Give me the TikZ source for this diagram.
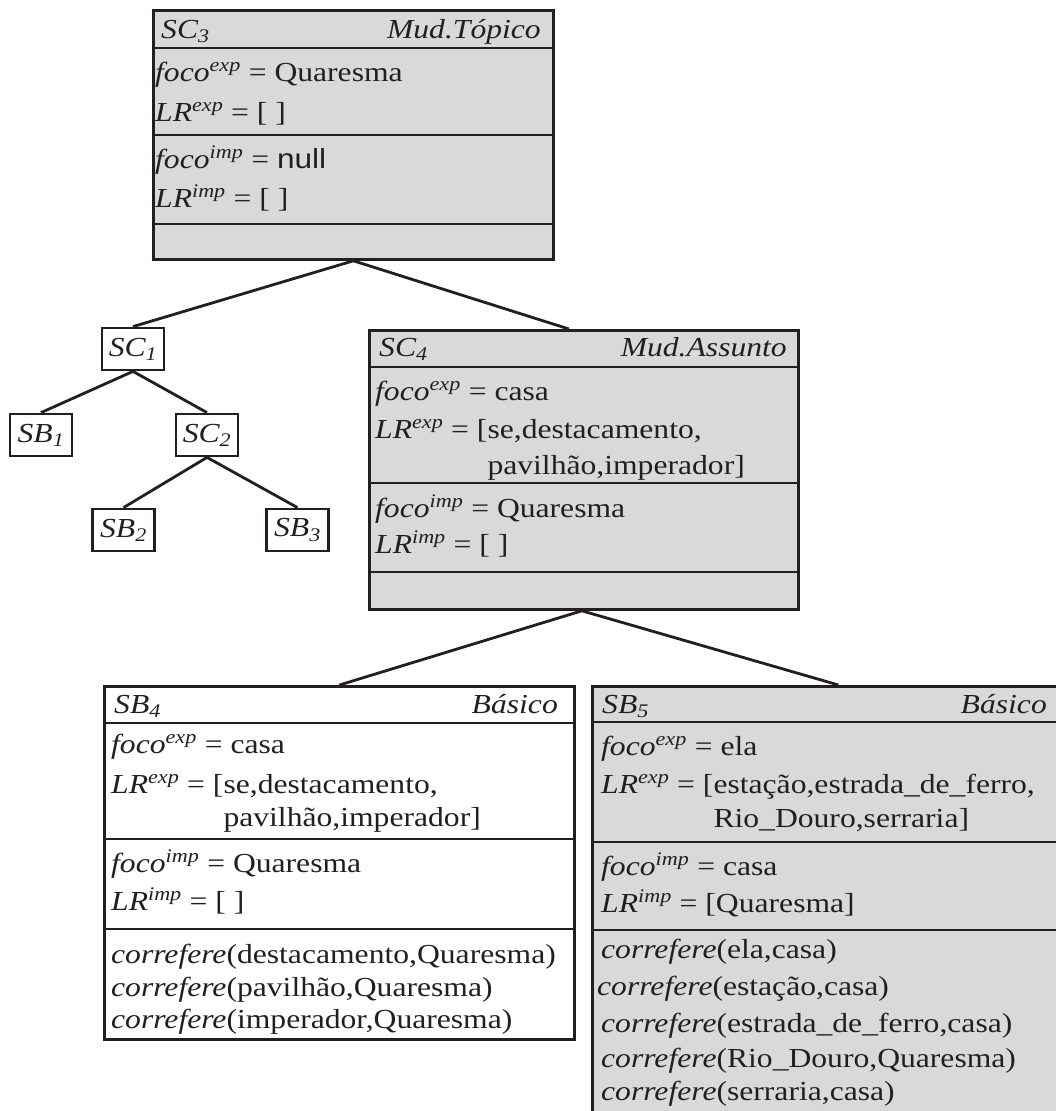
\documentclass[tikz,border=0pt]{standalone}
\usepackage{fontspec}
\setmainfont[FakeStretch=1.15]{Liberation Serif}
\newfontfamily\sansfam[FakeStretch=1.15]{Liberation Sans}

\definecolor{ink}{RGB}{35,31,32}
\definecolor{panel}{RGB}{216,217,217}

% entries of the focus/reference-list records
\newcommand\focoexp{\textit{foco}\textsuperscript{\textit{exp}}}
\newcommand\focoimp{\textit{foco}\textsuperscript{\textit{imp}}}
\newcommand\lrexp{\textit{LR}\textsuperscript{\textit{exp}}}
\newcommand\lrimp{\textit{LR}\textsuperscript{\textit{imp}}}
\newcommand\corref{\textit{correfere}}
\newcommand\recfont{\fontsize{27.5}{31}\selectfont}

\begin{document}
\begin{tikzpicture}[x=1pt,y=-1pt,
  every node/.style={text=ink},
  record/.style={draw=ink, line width=2.8pt, inner sep=0pt, anchor=north west},
  greyrec/.style={record, fill=panel},
  whiterec/.style={record, fill=white},
  leaf/.style={draw=ink, line width=2.8pt, fill=white, inner sep=0pt,
    minimum width=62pt, minimum height=42pt, font=\recfont\itshape},
  txt/.style={anchor=base west, inner sep=0pt, font=\recfont},
  rtxt/.style={anchor=base east, inner sep=0pt, font=\recfont\itshape},
  rule/.style={draw=ink, line width=2.8pt},
  link/.style={draw=ink, line width=2.8pt}]
\useasboundingbox (0,0) rectangle (1056,1111);
\clip (0,0) rectangle (1056,1111);

% ---------- SC3 ----------
\node[greyrec, minimum width=400pt, minimum height=249pt] (sc3) at (152,9) {};
\draw[rule] ([yshift=-39pt]sc3.north west) -- ([yshift=-39pt]sc3.north east);
\draw[rule] ([yshift=-126pt]sc3.north west) -- ([yshift=-126pt]sc3.north east);
\draw[rule] ([yshift=-215pt]sc3.north west) -- ([yshift=-215pt]sc3.north east);
\node[txt] (sc3h) at (161,38) {\textit{SC\textsubscript{3}}};
\node[rtxt] (sc3t) at (541,38) {Mud.Tópico};
\node[txt] (sc3a) at (155,81) {\focoexp{} = Quaresma};
\node[txt] (sc3b) at (155,121) {\lrexp{} = [ ]};
\node[txt] (sc3c) at (155,168) {\focoimp{} = {\sansfam null}};
\node[txt] (sc3d) at (155,207) {\lrimp{} = [ ]};

% ---------- left subtree ----------
\node[leaf] (sc1) at (133,349) {SC\textsubscript{1}};
\node[leaf] (sb1) at (41,435) {SB\textsubscript{1}};
\node[leaf] (sc2) at (207,435) {SC\textsubscript{2}};
\node[leaf] (sb2) at (123.5,530) {SB\textsubscript{2}};
\node[leaf] (sb3) at (297.5,530) {SB\textsubscript{3}};

% ---------- SC4 ----------
\node[greyrec, minimum width=429pt, minimum height=279pt] (sc4) at (368,329) {};
\draw[rule] ([yshift=-38pt]sc4.north west) -- ([yshift=-38pt]sc4.north east);
\draw[rule] ([yshift=-154pt]sc4.north west) -- ([yshift=-154pt]sc4.north east);
\draw[rule] ([yshift=-243pt]sc4.north west) -- ([yshift=-243pt]sc4.north east);
\node[txt] (sc4h) at (379,356) {\textit{SC\textsubscript{4}}};
\node[rtxt] (sc4t) at (787,356) {Mud.Assunto};
\node[txt] (sc4a) at (375,400) {\focoexp{} = casa};
\node[txt] (sc4b) at (375,438) {\lrexp{} = [se,destacamento,};
\node[txt] (sc4c) at (375,474) {\hphantom{\lrexp{} = [}pavilhão,imperador]};
\node[txt] (sc4d) at (375,517) {\focoimp{} = Quaresma};
\node[txt] (sc4e) at (375,553) {\lrimp{} = [ ]};

% ---------- SB4 ----------
\node[whiterec, minimum width=470pt, minimum height=353pt] (sb4) at (103,685) {};
\draw[rule] ([yshift=-38pt]sb4.north west) -- ([yshift=-38pt]sb4.north east);
\draw[rule] ([yshift=-154pt]sb4.north west) -- ([yshift=-154pt]sb4.north east);
\draw[rule] ([yshift=-244pt]sb4.north west) -- ([yshift=-244pt]sb4.north east);
\node[txt] (sb4h) at (114,713) {\textit{SB\textsubscript{4}}};
\node[rtxt] (sb4t) at (558,713) {Básico};
\node[txt] (sb4a) at (111,753) {\focoexp{} = casa};
\node[txt] (sb4b) at (111,793) {\lrexp{} = [se,destacamento,};
\node[txt] (sb4c) at (111,826) {\hphantom{\lrexp{} = [}pavilhão,imperador]};
\node[txt] (sb4d) at (111,872) {\focoimp{} = Quaresma};
\node[txt] (sb4e) at (111,910) {\lrimp{} = [ ]};
\node[txt] (sb4f) at (111,963) {\corref(destacamento,Quaresma)};
\node[txt] (sb4g) at (111,996) {\corref(pavilhão,Quaresma)};
\node[txt] (sb4i) at (111,1028) {\corref(imperador,Quaresma)};

% ---------- SB5 (runs past the right and lower edges) ----------
\node[greyrec, minimum width=492pt, minimum height=460pt] (sb5) at (591,685) {};
\draw[rule] ([yshift=-37pt]sb5.north west) -- ([yshift=-37pt]sb5.north east);
\draw[rule] ([yshift=-157pt]sb5.north west) -- ([yshift=-157pt]sb5.north east);
\draw[rule] ([yshift=-245pt]sb5.north west) -- ([yshift=-245pt]sb5.north east);
\node[txt] (sb5h) at (602,713) {\textit{SB\textsubscript{5}}};
\node[rtxt] (sb5t) at (1047,713) {Básico};
\node[txt] (sb5a) at (601,755) {\focoexp{} = ela};
\node[txt] (sb5b) at (601,793) {\lrexp{} = [estação,estrada\_de\_ferro,};
\node[txt] (sb5c) at (601,827) {\hphantom{\lrexp{} = [}Rio\_Douro,serraria]};
\node[txt] (sb5d) at (601,875) {\focoimp{} = casa};
\node[txt] (sb5e) at (601,912) {\lrimp{} = [Quaresma]};
\node[txt] (sb5f) at (601,958) {\corref(ela,casa)};
\node[txt] (sb5g) at (597,995) {\corref(estação,casa)};
\node[txt] (sb5i) at (601,1032) {\corref(estrada\_de\_ferro,casa)};
\node[txt] (sb5j) at (601,1067) {\corref(Rio\_Douro,Quaresma)};
\node[txt] (sb5k) at (601,1100) {\corref(serraria,casa)};

% ---------- tree edges ----------
\draw[link] (sc3.south) -- (sc1.north);
\draw[link] (sc3.south) -- ([xshift=-15pt]sc4.north);
\draw[link] (sc1.south) -- (sb1.north);
\draw[link] (sc1.south) -- (sc2.north);
\draw[link] (sc2.south) -- (sb2.north);
\draw[link] (sc2.south) -- (sb3.north);
\draw[link] ([xshift=-2pt]sc4.south) -- (sb4.north);
\draw[link] ([xshift=-2pt]sc4.south) -- (sb5.north);
\end{tikzpicture}
\end{document}
